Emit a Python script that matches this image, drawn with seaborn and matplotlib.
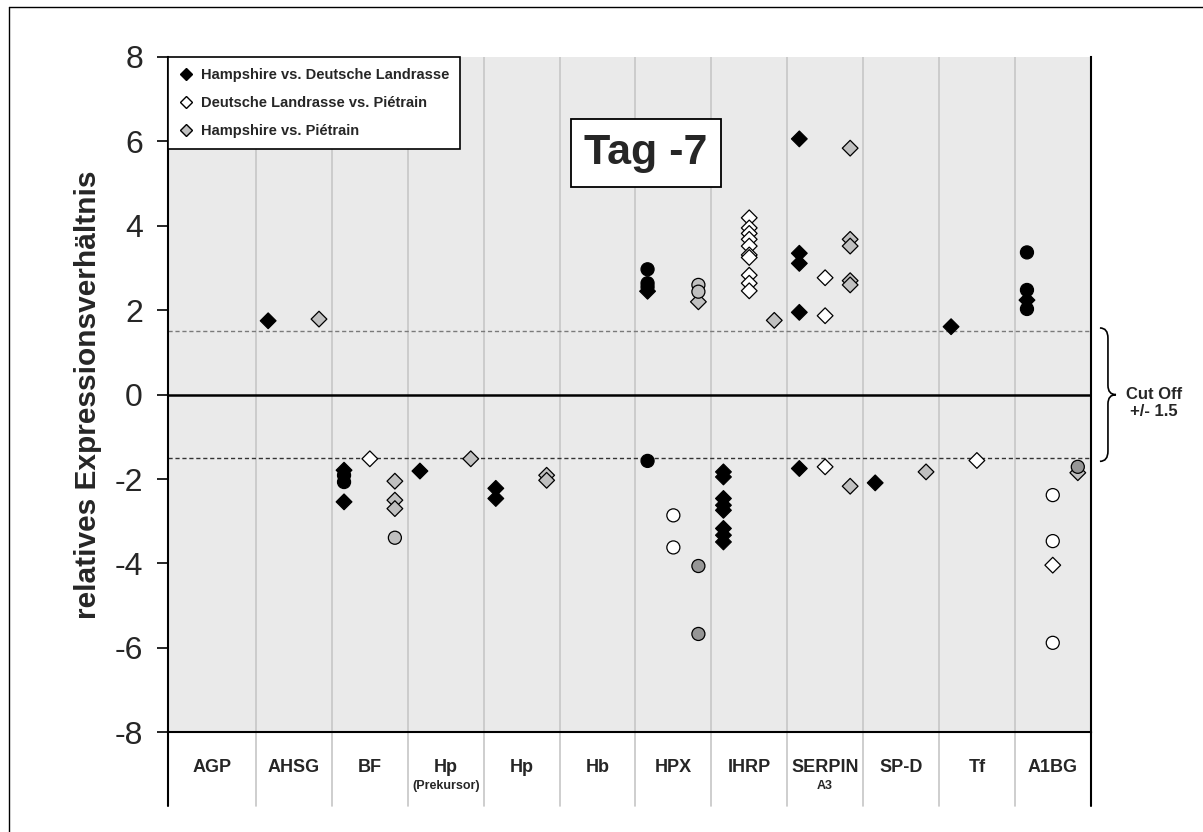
import numpy as np
import pandas as pd
import matplotlib
matplotlib.use("Agg")
import matplotlib.pyplot as plt
import matplotlib.transforms as mtransforms
import seaborn as sns
from matplotlib.lines import Line2D
from matplotlib.path import Path
from matplotlib.patches import PathPatch

# ---------------- data ----------------
genes = ["AGP", "AHSG", "BF", "Hp_prek", "Hp", "Hb", "HPX", "IHRP",
         "SERPINA3", "SP-D", "Tf", "A1BG"]
gene_labels = ["AGP", "AHSG", "BF", "Hp", "Hp", "Hb", "HPX", "IHRP",
               "SERPIN", "SP-D", "Tf", "A1BG"]
gene_sublabels = ["", "", "", "(Prekursor)", "", "", "", "", "A3", "", "", ""]

series_names = ["Hampshire vs. Deutsche Landrasse",
                "Deutsche Landrasse vs. Piétrain",
                "Hampshire vs. Piétrain"]

# Hampshire vs. Deutsche Landrasse  (D = diamond, o = circle)
hd_gene = ["AHSG", "BF", "BF", "BF", "BF", "Hp_prek", "Hp", "Hp",
           "HPX", "HPX", "HPX", "HPX", "HPX",
           "IHRP", "IHRP", "IHRP", "IHRP", "IHRP", "IHRP", "IHRP", "IHRP",
           "SERPINA3", "SERPINA3", "SERPINA3", "SERPINA3", "SERPINA3",
           "SP-D", "Tf", "A1BG", "A1BG", "A1BG", "A1BG"]
hd_value = [1.75, -1.79, -1.91, -2.07, -2.54, -1.81, -2.22, -2.46,
            2.97, 2.64, 2.55, 2.45, -1.57,
            -1.83, -1.95, -2.46, -2.62, -2.74, -3.17, -3.33, -3.49,
            6.06, 3.35, 3.11, 1.95, -1.75,
            -2.09, 1.61, 3.37, 2.48, 2.24, 2.03]
hd_kind = ["D", "D", "o", "o", "D", "D", "D", "D",
           "o", "o", "o", "D", "o",
           "D", "D", "D", "D", "D", "D", "D", "D",
           "D", "D", "D", "D", "D",
           "D", "D", "o", "o", "D", "o"]

# Deutsche Landrasse vs. Piétrain
dp_gene = ["BF", "HPX", "HPX",
           "IHRP", "IHRP", "IHRP", "IHRP", "IHRP", "IHRP", "IHRP", "IHRP", "IHRP", "IHRP",
           "SERPINA3", "SERPINA3", "SERPINA3", "Tf",
           "A1BG", "A1BG", "A1BG", "A1BG"]
dp_value = [-1.52, -2.86, -3.62,
            4.19, 3.95, 3.82, 3.68, 3.52, 3.31, 3.25, 2.83, 2.64, 2.46,
            2.77, 1.87, -1.71, -1.56,
            -2.38, -3.47, -5.88, -4.04]
dp_kind = ["D", "o", "o",
           "D", "D", "D", "D", "D", "D", "D", "D", "D", "D",
           "D", "D", "D", "D",
           "o", "o", "o", "D"]

# Hampshire vs. Piétrain  (o2 = darker grey circle)
hp_gene = ["AHSG", "BF", "BF", "BF", "BF", "Hp_prek", "Hp", "Hp",
           "HPX", "HPX", "HPX", "HPX", "HPX", "IHRP",
           "SERPINA3", "SERPINA3", "SERPINA3", "SERPINA3", "SERPINA3", "SERPINA3",
           "SP-D", "A1BG", "A1BG"]
hp_value = [1.79, -2.05, -2.50, -2.70, -3.39, -1.52, -1.91, -2.03,
            2.60, 2.44, 2.20, -4.06, -5.67, 1.76,
            5.84, 3.68, 3.52, 2.70, 2.60, -2.17,
            -1.83, -1.85, -1.71]
hp_kind = ["D", "D", "D", "D", "o", "D", "D", "D",
           "o", "o", "D", "o2", "o2", "D",
           "D", "D", "D", "D", "D", "D",
           "D", "D", "o2"]

# ---------------- table ----------------
frames = []
for name, g, v, k in [(series_names[0], hd_gene, hd_value, hd_kind),
                      (series_names[1], dp_gene, dp_value, dp_kind),
                      (series_names[2], hp_gene, hp_value, hp_kind)]:
    frames.append(pd.DataFrame({"gene": g, "value": v, "kind": k, "series": name}))
df = pd.concat(frames, ignore_index=True)

offset = {series_names[0]: -0.34, series_names[1]: 0.0, series_names[2]: 0.33}
df["x"] = df["gene"].map({g: i for i, g in enumerate(genes)}) + df["series"].map(offset)
df["fill"] = np.where(df["kind"] == "o2", "dark", df["series"])

palette = {series_names[0]: "#000000", series_names[1]: "#ffffff",
           series_names[2]: "#c0c0c0", "dark": "#969696"}

# ---------------- figure ----------------
sns.set_theme(style="white")
plt.rcParams["font.family"] = ["Liberation Sans", "DejaVu Sans"]

W, H = 1203, 832
fig = plt.figure(figsize=(W / 100, H / 100), dpi=100)
ax_l, ax_r, ax_t, ax_b = 168, 1090.7, 57, 732.3
ax = fig.add_axes([ax_l / W, 1 - ax_b / H, (ax_r - ax_l) / W, (ax_b - ax_t) / H])

XL, XR = -0.66, 11.5
ax.set_xlim(XL, XR)
ax.set_ylim(-8, 8)
ax.set_facecolor("#eaeaea")

for b in np.arange(0.5, 11.0, 1.0):
    ax.axvline(b, color="#c6c6c6", lw=1.2, zorder=1)
ax.axhline(0, color="black", lw=1.8, zorder=2)
ax.axhline(1.5, color="#7a7a7a", lw=1.0, ls=(0, (3, 2)), zorder=2)
ax.axhline(-1.5, color="#333333", lw=1.0, ls=(0, (3, 2)), zorder=2)

for kind, marker, size in [("D", "D", 64), ("o", "o", 88), ("o2", "o", 88)]:
    sub = df[df["kind"] == kind]
    sns.scatterplot(data=sub, x="x", y="value", hue="fill", palette=palette,
                    marker=marker, s=size, edgecolor="black", linewidth=0.9,
                    legend=False, ax=ax, zorder=5)

ax.set_xlabel("")
ax.set_xticks([])
ax.set_yticks(np.arange(-8, 9, 2))
ax.set_yticklabels([str(t) for t in range(-8, 9, 2)], fontsize=23)
ax.tick_params(axis="y", direction="out", length=8, width=1.2, color="black",
               pad=10, left=True)
ax.set_ylabel("relatives Expressionsverhältnis", fontsize=21.5, fontweight="bold")
ax.yaxis.set_label_coords(-0.071, 0.5)

for side in ["left", "right", "bottom"]:
    ax.spines[side].set_visible(True)
    ax.spines[side].set_color("black")
    ax.spines[side].set_linewidth(1.5)
ax.spines["top"].set_visible(False)

# category table under the plot
trans = ax.get_xaxis_transform()
depth = (806 - ax_b) / (ax_b - ax_t)
for b in np.arange(0.5, 11.0, 1.0):
    ax.plot([b, b], [0, -depth], transform=trans, clip_on=False,
            color="#c6c6c6", lw=1.2)
for b in [XL, XR]:
    ax.plot([b, b], [0, -depth], transform=trans, clip_on=False,
            color="black", lw=1.5)
centers = [(XL + 0.5) / 2] + list(range(1, len(genes)))
lab_y = -(768 - ax_b) / (ax_b - ax_t)
sub_y = -(786 - ax_b) / (ax_b - ax_t)
for c, lab, sl in zip(centers, gene_labels, gene_sublabels):
    ax.text(c, lab_y, lab, transform=trans, ha="center", va="center",
            fontsize=13, fontweight="bold")
    if sl:
        ax.text(c, sub_y, sl, transform=trans, ha="center", va="center",
                fontsize=9, fontweight="bold")

# legend
handles = [Line2D([], [], marker="D", linestyle="none", markersize=6.5,
                  markerfacecolor=palette[n], markeredgecolor="black",
                  markeredgewidth=1.0) for n in series_names]
leg = ax.legend(handles, series_names, loc="upper left", bbox_to_anchor=(0, 1),
                borderaxespad=0, frameon=True, fancybox=False, framealpha=1,
                edgecolor="black", prop={"weight": "bold", "size": 10.5},
                labelspacing=0.95, borderpad=0.75, handlelength=0.9,
                handletextpad=0.6)
leg.get_frame().set_linewidth(1.2)
leg.set_zorder(10)

# title box
ax.text((646 - ax_l) / (ax_r - ax_l), (ax_b - 153) / (ax_b - ax_t), "Tag -7",
        transform=ax.transAxes, ha="center", va="center", fontsize=31,
        fontweight="bold", zorder=10,
        bbox=dict(boxstyle="square,pad=0.32", facecolor="white",
                  edgecolor="black", linewidth=1.3))

# brace + cut off annotation
btr = mtransforms.blended_transform_factory(ax.transAxes, ax.transData)
x0, x1, x2 = 1.010, 1.0187, 1.0274
verts = [(x0, 1.58), (x1, 1.58), (x1, 1.34), (x1, 0.22), (x1, 0.0), (x2, 0.0),
         (x1, 0.0), (x1, -0.22), (x1, -1.34), (x1, -1.58), (x0, -1.58)]
codes = [Path.MOVETO, Path.CURVE3, Path.CURVE3, Path.LINETO, Path.CURVE3, Path.CURVE3,
         Path.CURVE3, Path.CURVE3, Path.LINETO, Path.CURVE3, Path.CURVE3]
ax.add_patch(PathPatch(Path(verts, codes), transform=btr, facecolor="none",
                       edgecolor="black", lw=1.2, clip_on=False))
ax.text(1.0686, -0.2, "Cut Off\n+/- 1.5", transform=btr, ha="center",
        va="center", fontsize=12, fontweight="bold", linespacing=1.15)

# outer frame (top and left edges visible)
fig.add_artist(Line2D([9 / W, 9 / W], [0, 1 - 7 / H], transform=fig.transFigure,
                      color="black", lw=1.0))
fig.add_artist(Line2D([9 / W, 1], [1 - 7 / H, 1 - 7 / H], transform=fig.transFigure,
                      color="black", lw=1.0))

fig.savefig("out.png", dpi=100)
